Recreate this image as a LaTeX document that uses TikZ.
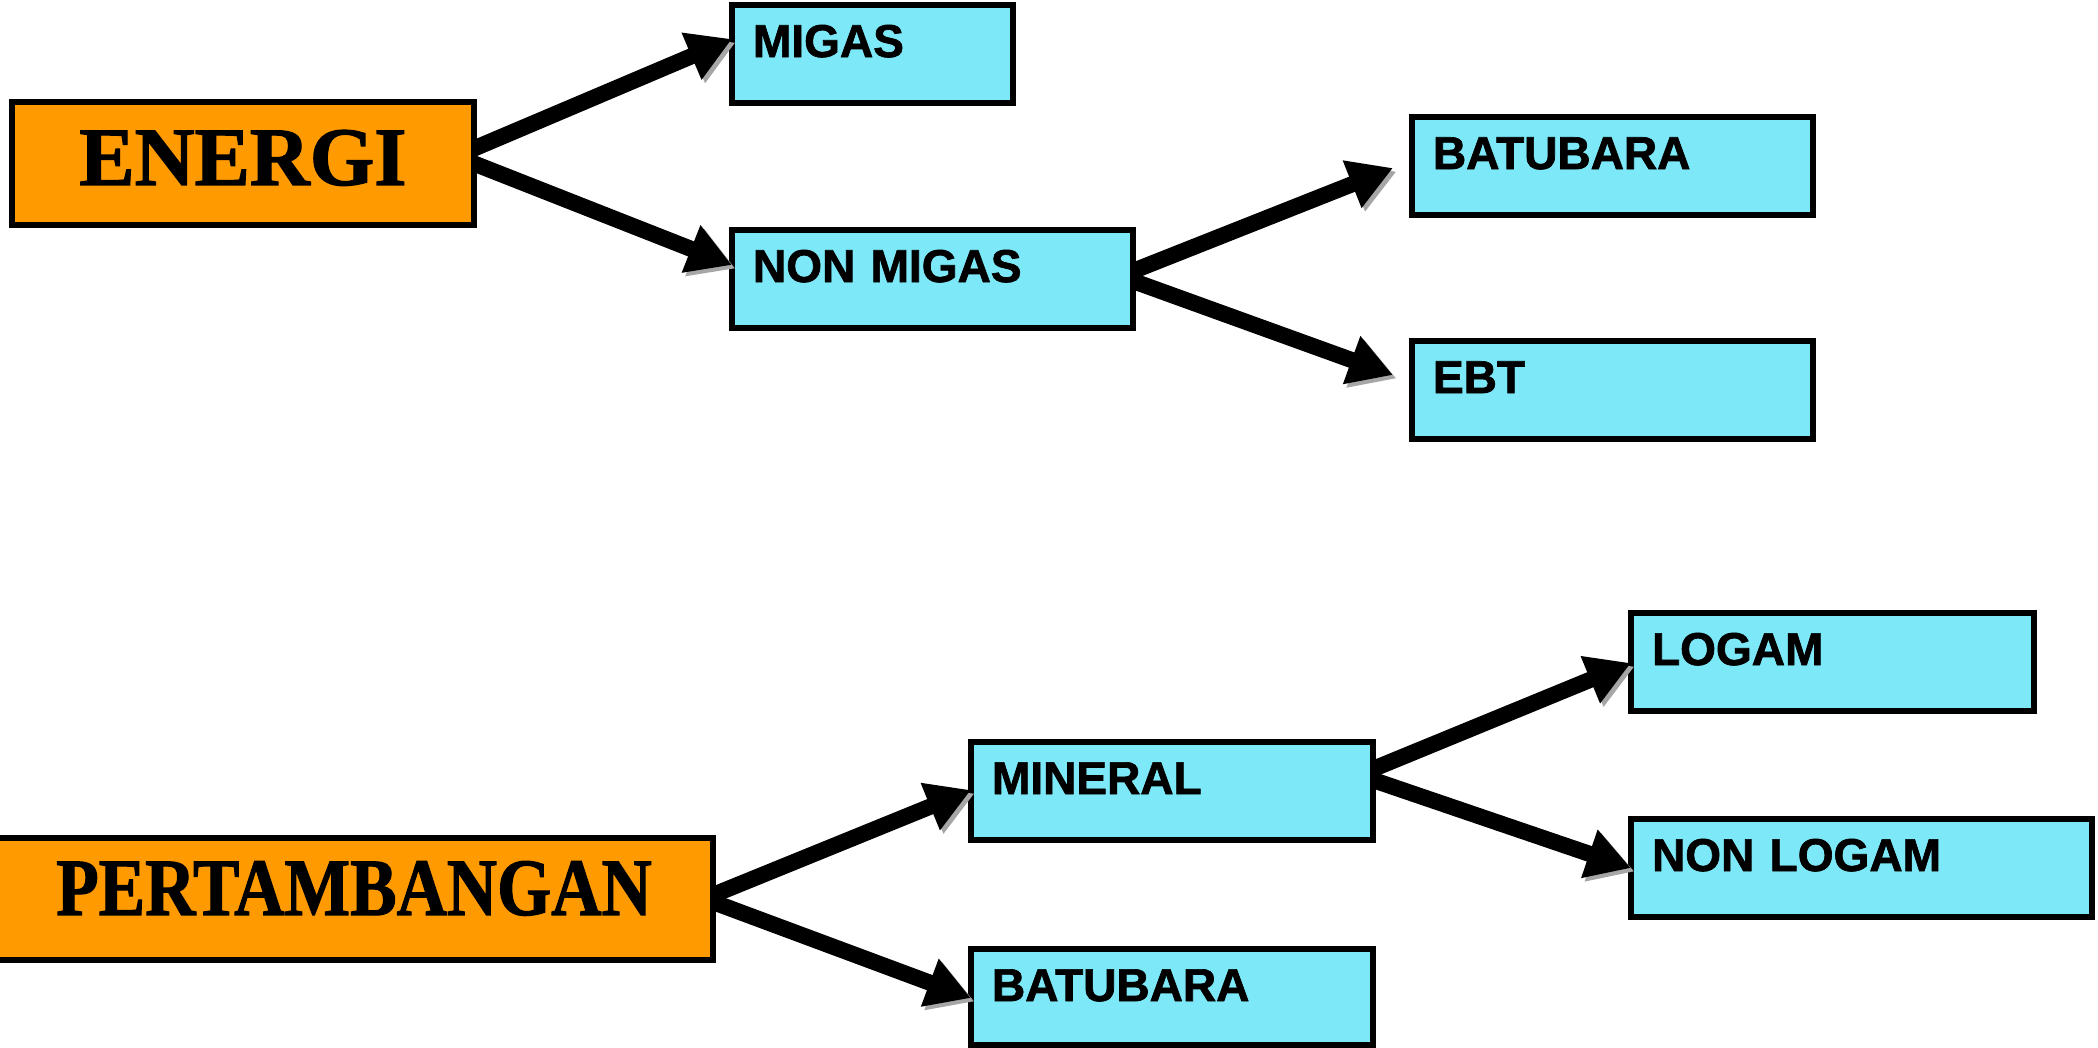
\documentclass[tikz,border=0pt]{standalone}
\usepackage{fontspec}
\newfontfamily\judulfont{Liberation Serif Bold}[FakeBold=1.5]
\newfontfamily\kotakfont{Liberation Sans Bold}[FakeBold=1.5]
\usepackage{tikz}
\usetikzlibrary{arrows.meta}
\definecolor{oranye}{RGB}{255,154,0}
\definecolor{biru}{RGB}{125,233,248}

\begin{document}
\begin{tikzpicture}
	\tikzstyle{every node}+=[inner sep=0pt, outer sep=0pt]
	\tikzstyle{kotak}=[draw=black, line width=1.5pt, fill=biru, anchor=north west, align=left, inner xsep=0.21cm, text height=0.52cm, text depth=0.46cm, font=\kotakfont\fontsize{13.1pt}{15pt}\selectfont]
	\tikzstyle{judul}=[draw=black, line width=1.5pt, fill=oranye, anchor=north west, font=\judulfont\fontsize{23.6pt}{26pt}\selectfont]
	\tikzstyle{panah}=[line width=4.6pt, -{Triangle[length=0.44cm,width=0.48cm]}, preaction={draw=gray!70, transform canvas={shift={(0.035cm,-0.035cm)}}}]
	\useasboundingbox (0,0) rectangle (20.98,-10.47);
	\node [judul, minimum width=4.62cm, minimum height=1.23cm, text depth=0.12cm] (energi) at (0.12,-1.02) {ENERGI};
	\node [kotak, text width=2.39cm] (migas) at (7.32,-0.05) {MIGAS};
	\node [kotak, text width=3.59cm] (nonmigas) at (7.32,-2.30) {NON MIGAS};
	\node [kotak, text width=3.59cm] (batubara) at (14.12,-1.17) {BATUBARA};
	\node [kotak, text width=3.59cm] (ebt) at (14.12,-3.41) {EBT};
	\draw [panah] ([yshift=0.15cm]energi.east) -- ([yshift=-0.34cm]migas.north west);
	\draw [panah] (energi.east) -- ([yshift=-0.35cm]nonmigas.north west);
	\draw [panah] ([yshift=0.08cm]nonmigas.east) -- ([xshift=-0.19cm,yshift=-0.51cm]batubara.north west);
	\draw [panah] ([yshift=-0.02cm]nonmigas.east) -- ([xshift=-0.19cm,yshift=-0.34cm]ebt.north west);
	\node [judul, minimum width=7.18cm, minimum height=1.22cm, text depth=0.22cm, font=\judulfont\fontsize{22pt}{24pt}\selectfont] (tambang) at (-0.05,-8.38) {\scalebox{0.9}[1.05]{PERTAMBANGAN}};
	\node [kotak, text width=3.60cm] (mineral) at (9.71,-7.42) {MINERAL};
	\node [kotak, text width=3.60cm, text depth=0.44cm] (batubara2) at (9.71,-9.49) {BATUBARA};
	\node [kotak, text width=3.61cm] (logam) at (16.31,-6.13) {LOGAM};
	\node [kotak, text width=4.19cm] (nonlogam) at (16.31,-8.19) {NON LOGAM};
	\draw [panah] ([yshift=0.04cm]tambang.east) -- ([yshift=-0.48cm]mineral.north west);
	\draw [panah] ([yshift=-0.03cm]tambang.east) -- ([yshift=-0.49cm]batubara2.north west);
	\draw [panah] ([yshift=0.22cm]mineral.east) -- ([yshift=-0.50cm]logam.north west);
	\draw [panah] ([yshift=0.11cm]mineral.east) -- ([yshift=-0.49cm]nonlogam.north west);
\end{tikzpicture}
\end{document}
